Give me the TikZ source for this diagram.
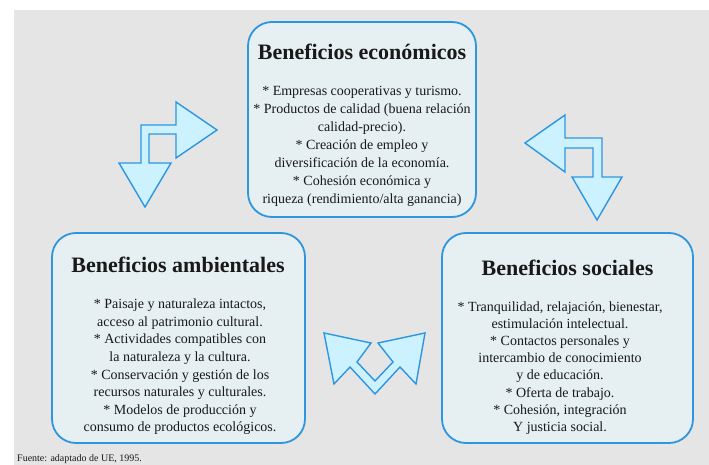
\documentclass[tikz,border=0pt]{standalone}
\usepackage{fontspec}
\setmainfont{Liberation Serif}
\definecolor{paper}{RGB}{229,229,229}
\definecolor{boxfill}{RGB}{230,239,242}
\definecolor{boxline}{RGB}{45,150,225}
\definecolor{arrowfill}{RGB}{204,242,255}
\definecolor{ink}{RGB}{25,25,25}
\tikzset{
  benefitbox/.style={draw=boxline, line width=1.8pt, fill=boxfill, rounded corners=24pt, inner sep=0pt},
  titletext/.style={font=\fontsize{22}{24}\selectfont\bfseries, text=ink, inner sep=0pt},
  bodytext/.style={font=\fontsize{14}{18}\selectfont, text=ink, align=center, inner sep=0pt},
  bigarrow/.style={draw=boxline, line width=1.4pt, fill=arrowfill, line join=miter},
}
\begin{document}
\begin{tikzpicture}[x=1pt,y=-1pt]
\useasboundingbox (0,0) rectangle (709,465);
\fill[paper] (14,10) rectangle (709,465);

% boxes
\node[benefitbox, minimum width=228pt, minimum height=195pt] (eco) at (362,119.5) {};
\node[benefitbox, minimum width=253pt, minimum height=210pt] (amb) at (178.5,338) {};
\node[benefitbox, minimum width=251pt, minimum height=210pt] (soc) at (567.5,338) {};

% titles
\node[titletext] (ecot) at (362,52) {Beneficios económicos};
\node[titletext] (ambt) at (178,265) {Beneficios ambientales};
\node[titletext] (soct) at (567.5,268) {Beneficios sociales};

% bodies
\node[bodytext] (ecob) at (362,146) {* Empresas cooperativas y turismo.\\
* Productos de calidad (buena relación\\
calidad-precio).\\
* Creación de empleo y\\
diversificación de la economía.\\
* Cohesión económica y\\
riqueza (rendimiento/alta ganancia)};

\node[bodytext, font=\fontsize{14}{17.6}\selectfont] (ambb) at (180,367) {* Paisaje y naturaleza intactos,\\
acceso al patrimonio cultural.\\
* Actividades compatibles con\\
la naturaleza y la cultura.\\
* Conservación y gestión de los\\
recursos naturales y culturales.\\
* Modelos de producción y\\
consumo de productos ecológicos.};

\node[bodytext, font=\fontsize{14}{17.1}\selectfont] (socb) at (560,368) {* Tranquilidad, relajación, bienestar,\\
estimulación intelectual.\\
* Contactos personales y\\
intercambio de conocimiento\\
y de educación.\\
* Oferta de trabajo.\\
* Cohesión, integración\\
Y justicia social.};

% arrows
\draw[bigarrow] (141,125) -- (176,125) -- (176,102) -- (217,130) -- (176,158) -- (176,134)
  -- (149,134) -- (149,163) -- (171,163) -- (145,207) -- (119,163) -- (141,163) -- cycle;
\draw[bigarrow] (525,143) -- (565,115) -- (565,138) -- (602,138) -- (602,177) -- (622,177)
  -- (597,220) -- (572,177) -- (593,177) -- (593,148) -- (565,148) -- (565,172) -- cycle;
\draw[bigarrow] (324,333) -- (371,343) -- (357,362) -- (375,381) -- (393,362) -- (378,343)
  -- (425,333) -- (416,384) -- (400,367) -- (375,394) -- (350,367) -- (334,384) -- cycle;

% source
\node[anchor=base west, inner sep=0pt, font=\fontsize{10}{11}\selectfont, text=ink] (src) at (17,461.5) {Fuente: adaptado de UE, 1995.};
\end{tikzpicture}
\end{document}
